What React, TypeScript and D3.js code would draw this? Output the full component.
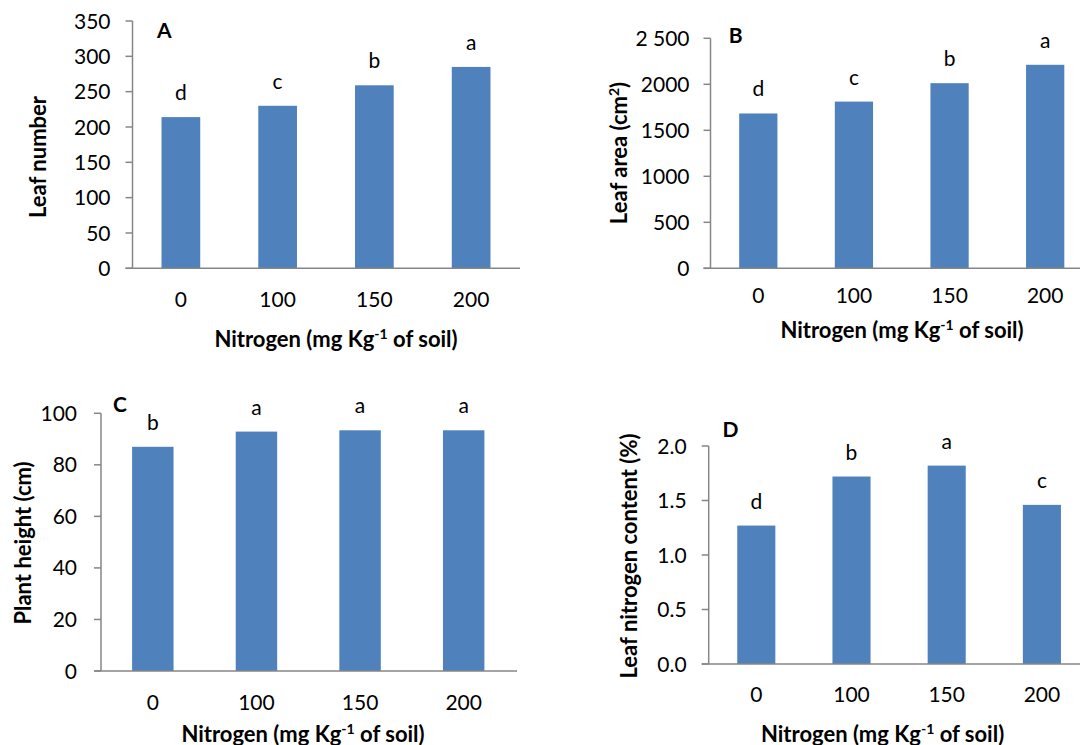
import React from 'react'
import * as d3 from 'd3'

const categories = ['0', '100', '150', '200']

const leafNumber = [214, 230, 259, 285]
const leafNumberLetters = ['d', 'c', 'b', 'a']
const leafNumberTicks = [0, 50, 100, 150, 200, 250, 300, 350]

const leafArea = [1683, 1812, 2012, 2212]
const leafAreaLetters = ['d', 'c', 'b', 'a']
const leafAreaTicks = [0, 500, 1000, 1500, 2000, 2500]

const plantHeight = [87, 92.9, 93.4, 93.4]
const plantHeightLetters = ['b', 'a', 'a', 'a']
const plantHeightTicks = [0, 20, 40, 60, 80, 100]

const leafNitrogen = [1.27, 1.72, 1.82, 1.46]
const leafNitrogenLetters = ['d', 'b', 'a', 'c']
const leafNitrogenTicks = [0, 0.5, 1.0, 1.5, 2.0]

const BAR = '#4F81BD'
const AXIS = '#868686'
const FONT = 'Lato, "Open Sans", sans-serif'

// x title with superscript -1
const NitrogenTitle = ({ x, y }: { x: number; y: number }) => (
  <text x={x} y={y} textAnchor="middle" fontWeight="bold" fontSize={22}>
    Nitrogen (mg Kg<tspan fontSize={14} dy={-8}>-1</tspan>
    <tspan dy={8}> of soil)</tspan>
  </text>
)

type PanelProps = {
  label: string
  values: number[]
  letters: string[]
  ticks: number[]
  tickFormat: (v: number) => string
  yTitle: React.ReactNode
  x0: number
  x1: number
  axisEnd: number
  yTop: number
  yZero: number
  labelGap: number
  tickBaseline: number
  xTitle: { x: number; y: number }
  yTitlePos: { x: number; y: number }
  letterPos: { x: number; y: number }
}

const Panel = (p: PanelProps) => {
  const x = d3.scaleBand().domain(categories).range([p.x0, p.x1]).paddingInner(0.6).paddingOuter(0.3)
  const yMax = p.ticks[p.ticks.length - 1]
  const y = d3.scaleLinear().domain([0, yMax]).range([p.yZero, p.yTop])

  return (
    <g fontFamily={FONT} fill="#000">
      {/* bars */}
      {p.values.map((v, i) => (
        <rect
          key={i}
          x={x(categories[i])}
          y={y(v)}
          width={x.bandwidth()}
          height={p.yZero - y(v)}
          fill={BAR}
        />
      ))}
      {/* significance letters */}
      {p.values.map((v, i) => (
        <text
          key={'l' + i}
          x={(x(categories[i]) as number) + x.bandwidth() / 2}
          y={y(v) - 17}
          textAnchor="middle"
          fontSize={21}
        >
          {p.letters[i]}
        </text>
      ))}
      {/* y axis */}
      <line x1={p.x0} x2={p.x0} y1={p.yTop} y2={p.yZero} stroke={AXIS} strokeWidth={1.5} />
      {p.ticks.map((t) => (
        <g key={t}>
          <line x1={p.x0 - 7} x2={p.x0} y1={y(t)} y2={y(t)} stroke={AXIS} strokeWidth={1.5} />
          <text x={p.x0 - p.labelGap} y={y(t)} dy="0.36em" textAnchor="end" fontSize={21}>
            {p.tickFormat(t)}
          </text>
        </g>
      ))}
      {/* x axis */}
      <line x1={p.x0 - 7} x2={p.axisEnd} y1={p.yZero} y2={p.yZero} stroke={AXIS} strokeWidth={1.5} />
      {categories.map((c) => (
        <text
          key={c}
          x={(x(c) as number) + x.bandwidth() / 2}
          y={p.tickBaseline}
          textAnchor="middle"
          fontSize={21}
        >
          {c}
        </text>
      ))}
      <NitrogenTitle x={p.xTitle.x} y={p.xTitle.y} />
      <text
        transform={`translate(${p.yTitlePos.x},${p.yTitlePos.y}) rotate(-90)`}
        textAnchor="middle"
        dy="0.36em"
        fontWeight="bold"
        fontSize={22}
      >
        {p.yTitle}
      </text>
      <text x={p.letterPos.x} y={p.letterPos.y} fontWeight="bold" fontSize={21}>
        {p.label}
      </text>
    </g>
  )
}

const App = () => {
  return (
    <svg
      width={1080}
      height={745}
      style={{ position: 'absolute', left: 0, top: 0, background: '#fff' }}
    >
      <Panel
        label="A"
        values={leafNumber}
        letters={leafNumberLetters}
        ticks={leafNumberTicks}
        tickFormat={(v) => String(v)}
        yTitle="Leaf number"
        x0={132.5}
        x1={519.5}
        axisEnd={520}
        yTop={21}
        yZero={268.3}
        labelGap={22}
        tickBaseline={307}
        xTitle={{ x: 336, y: 347 }}
        yTitlePos={{ x: 38, y: 157 }}
        letterPos={{ x: 157, y: 38 }}
      />
      <Panel
        label="B"
        values={leafArea}
        letters={leafAreaLetters}
        ticks={leafAreaTicks}
        tickFormat={(v) => (v === 2500 ? '2 500' : String(v))}
        yTitle={
          <>
            Leaf area (cm<tspan fontSize={14} dy={-8}>2</tspan>
            <tspan dy={8}>)</tspan>
          </>
        }
        x0={710.5}
        x1={1093}
        axisEnd={1080}
        yTop={38.3}
        yZero={268.3}
        labelGap={21}
        tickBaseline={303}
        xTitle={{ x: 902, y: 338 }}
        yTitlePos={{ x: 619, y: 153 }}
        letterPos={{ x: 728.7, y: 43 }}
      />
      <Panel
        label="C"
        values={plantHeight}
        letters={plantHeightLetters}
        ticks={plantHeightTicks}
        tickFormat={(v) => String(v)}
        yTitle="Plant height (cm)"
        x0={101}
        x1={515.5}
        axisEnd={517}
        yTop={413.3}
        yZero={671}
        labelGap={24}
        tickBaseline={710}
        xTitle={{ x: 303, y: 742 }}
        yTitlePos={{ x: 23, y: 543 }}
        letterPos={{ x: 113, y: 412 }}
      />
      <Panel
        label="D"
        values={leafNitrogen}
        letters={leafNitrogenLetters}
        ticks={leafNitrogenTicks}
        tickFormat={d3.format('.1f')}
        yTitle="Leaf nitrogen content (%)"
        x0={708.7}
        x1={1089.5}
        axisEnd={1080}
        yTop={446}
        yZero={664}
        labelGap={22}
        tickBaseline={702}
        xTitle={{ x: 882.6, y: 742 }}
        yTitlePos={{ x: 629.5, y: 556 }}
        letterPos={{ x: 722.5, y: 437 }}
      />
    </svg>
  )
}

export default App
